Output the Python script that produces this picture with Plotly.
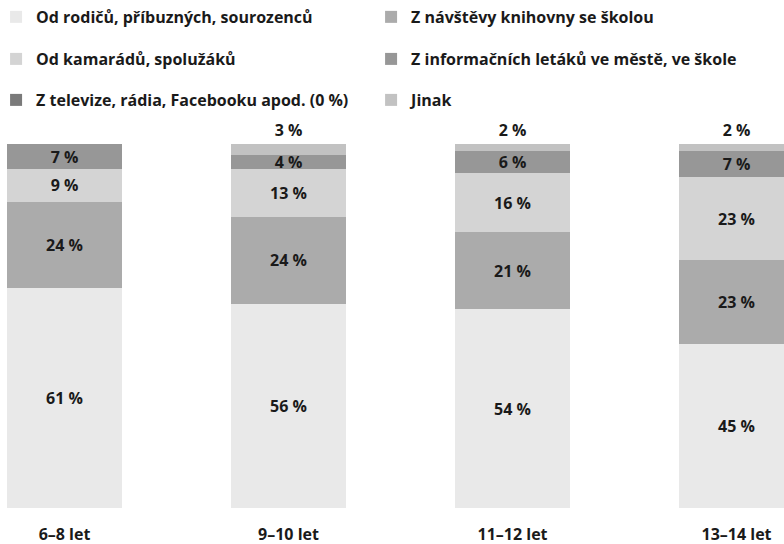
import plotly.graph_objects as go

categories = ["6–8 let", "9–10 let", "11–12 let", "13–14 let"]
series_names = [
    "Od rodičů, příbuzných, sourozenců",
    "Z návštěvy knihovny se školou",
    "Od kamarádů, spolužáků",
    "Z informačních letáků ve městě, ve škole",
    "Z televize, rádia, Facebooku apod. (0 %)",
    "Jinak",
]
od_rodicu = [61, 56, 54, 45]
z_navstevy = [24, 24, 21, 23]
od_kamaradu = [9, 13, 16, 23]
z_informacnich = [7, 4, 6, 7]
z_televize = [0, 0, 0, 0]
jinak = [0, 3, 2, 2]

series_values = [od_rodicu, z_navstevy, od_kamaradu, z_informacnich, z_televize, jinak]
colors = ["#e9e9e9", "#ababab", "#d4d4d4", "#979797", "#7a7a7a", "#c2c2c2"]
legend_ids = ["legend", "legend", "legend2", "legend2", "legend3", "legend3"]

FONT = "Open Sans"
LABEL_SIZE = 16

fig = go.Figure()
for i, (name, vals, col, lg) in enumerate(zip(series_names, series_values, colors, legend_ids)):
    is_top = i == len(series_names) - 1
    fig.add_trace(go.Bar(
        x=categories, y=vals, name=name, legend=lg,
        marker=dict(color=col, line=dict(width=0)),
        text=[f"{v} %" if v > 0 else "" for v in vals],
        textposition="outside" if is_top else "inside",
        insidetextanchor="middle", cliponaxis=False,
        textfont=dict(family=FONT, size=LABEL_SIZE, color="#1a1a1a", weight="bold"),
        outsidetextfont=dict(family=FONT, size=LABEL_SIZE, color="#1a1a1a", weight="bold"),
        hoverinfo="skip",
    ))

legend_common = dict(
    orientation="h", x=-0.005, xanchor="left", yanchor="middle",
    traceorder="normal", entrywidth=330, entrywidthmode="pixels",
    font=dict(family=FONT, size=16, color="#1a1a1a", weight="bold"),
    bgcolor="rgba(0,0,0,0)", itemclick=False, itemdoubleclick=False,
)

fig.update_layout(
    width=784, height=544,
    barmode="stack", barnorm="percent", bargap=0.487,
    margin=dict(l=0, r=0, t=144, b=36, autoexpand=False),
    paper_bgcolor="white", plot_bgcolor="white",
    showlegend=True,
    legend=dict(legend_common, y=1.349),
    legend2=dict(legend_common, y=1.2335),
    legend3=dict(legend_common, y=1.1209),
    uniformtext=dict(mode="show", minsize=LABEL_SIZE),
    xaxis=dict(
        range=[-0.288, 3.212], showgrid=False, showline=False, zeroline=False,
        ticks="", ticklabelstandoff=15,
        tickfont=dict(family=FONT, size=LABEL_SIZE, color="#1a1a1a", weight="bold"),
    ),
    yaxis=dict(range=[0, 100], visible=False),
)

fig.write_html(
    "out.html",
    config={"displayModeBar": False},
    post_script="document.body.style.margin='0';document.body.style.overflow='hidden';",
)
